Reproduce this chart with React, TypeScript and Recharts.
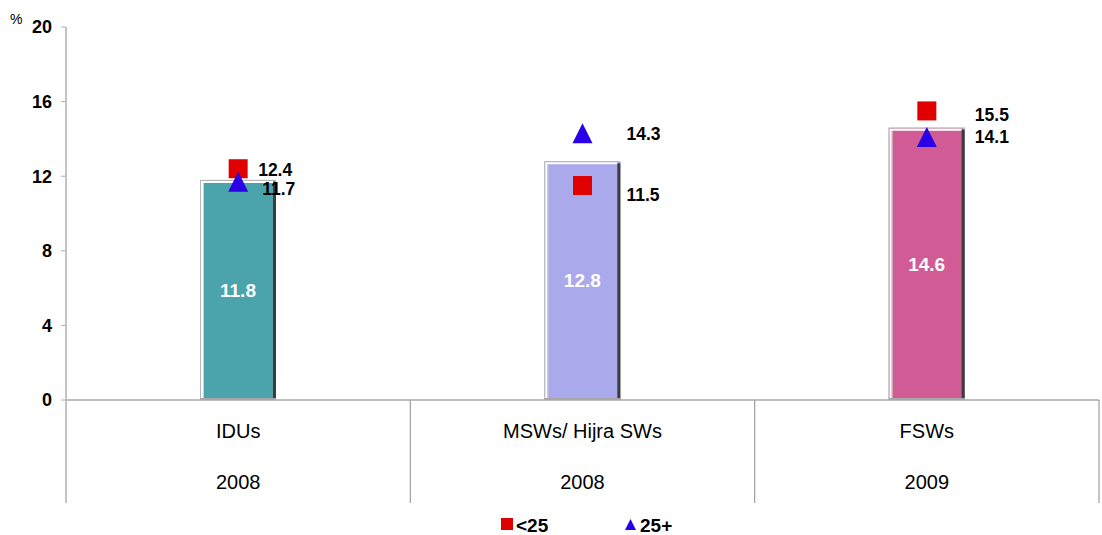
import {
  ComposedChart,
  Bar,
  Scatter,
  XAxis,
  YAxis,
  Legend,
  Cell,
  LabelList,
} from 'recharts';

// Source groups and survey years
const categories = ['IDUs', 'MSWs/ Hijra SWs', 'FSWs'];
const years = ['2008', '2008', '2009'];

// Overall prevalence (bars) and by age group (markers), in %
const overall = [11.8, 12.8, 14.6];
const under25 = [12.4, 11.5, 15.5];
const over25 = [11.7, 14.3, 14.1];

const yTicks = [0, 4, 8, 12, 16, 20];

const BAR_COLORS = ['#4BA3AC', '#A9A9EB', '#D15B94'];
const RED = '#E00000';
const BLUE = '#2A00E6';
const FONT = '"Liberation Sans", Arial, sans-serif';

const WIDTH = 1102;
const HEIGHT = 535;
const PLOT_LEFT = 66;
const PLOT_RIGHT = 1099;
const AXIS_Y = 400;
const TABLE_BOTTOM = 503;
const BAND = (PLOT_RIGHT - PLOT_LEFT) / categories.length;

// value labels next to markers: [dx, dy] per category
const UNDER25_LABEL_OFFSET = [[20, 7], [44, 15], [48, 10]];
const OVER25_LABEL_OFFSET = [[24, 13], [44, 7], [48, 6]];

const data = categories.map((c, i) => ({
  category: c,
  year: years[i],
  overall: overall[i],
  under25: under25[i],
  over25: over25[i],
}));

/** Bar with a bevelled frame: light top/left edge, dark right edge */
function BevelBar(props: any) {
  const { x, y, width, height, fill } = props;
  if (!height || height <= 0) return null;
  return (
    <g>
      <rect x={x} y={y} width={width} height={height} fill={fill} />
      {/* outer light frame */}
      <rect x={x + 0.5} y={y + 0.5} width={width - 1} height={height - 1} fill="none" stroke="#b8b8b8" strokeWidth={1} />
      {/* white highlight along top and left */}
      <line x1={x + 1} y1={y + 2} x2={x + width - 3} y2={y + 2} stroke="#ffffff" strokeWidth={2} />
      <line x1={x + 2} y1={y + 2} x2={x + 2} y2={y + height} stroke="#ffffff" strokeWidth={2} />
      <line x1={x + 3.5} y1={y + 3} x2={x + 3.5} y2={y + height} stroke="#d0d0d0" strokeWidth={1} />
      {/* dark right edge */}
      <line x1={x + width - 1.5} y1={y + 2} x2={x + width - 1.5} y2={y + height} stroke="#3c3c3c" strokeWidth={3} />
      {/* grey foot */}
      <line x1={x} y1={y + height - 1} x2={x + width} y2={y + height - 1} stroke="#a8a8a8" strokeWidth={2} />
    </g>
  );
}

function SquareMarker({ cx, cy }: any) {
  const s = 19;
  return <rect x={cx - s / 2} y={cy - s / 2} width={s} height={s} fill={RED} />;
}

function TriangleMarker({ cx, cy }: any) {
  return <polygon points={`${cx},${cy - 10} ${cx - 10},${cy + 10} ${cx + 10},${cy + 10}`} fill={BLUE} />;
}

function markerLabel(offsets: number[][]) {
  return (props: any) => {
    const { x, y, width, height, index, value } = props;
    const cx = x + (width || 0) / 2;
    const cy = y + (height || 0) / 2;
    const [dx, dy] = offsets[index] ?? [40, 7];
    return (
      <text x={cx + dx} y={cy + dy} fontSize={17.5} fontWeight={700} fill="#000" fontFamily={FONT} textAnchor="start">
        {value}
      </text>
    );
  };
}

/** Category cell of the table under the plot: name, year and cell borders */
function CategoryTick(props: any) {
  const { x, payload, index } = props;
  const i = index ?? categories.indexOf(payload.value);
  const right = PLOT_LEFT + BAND * (i + 1);
  return (
    <g>
      {i === 0 && (
        <line x1={PLOT_LEFT} y1={AXIS_Y} x2={PLOT_LEFT} y2={TABLE_BOTTOM} stroke="#b0b0b0" strokeWidth={1.5} />
      )}
      <line x1={right} y1={AXIS_Y} x2={right} y2={TABLE_BOTTOM} stroke="#a0a0a0" strokeWidth={1.2} />
      <text x={x} y={438} textAnchor="middle" fontSize={20} fill="#000" fontFamily={FONT}>
        {payload.value}
      </text>
      <text x={x} y={489} textAnchor="middle" fontSize={20} fill="#000" fontFamily={FONT}>
        {years[i]}
      </text>
    </g>
  );
}

function AgeLegend() {
  return (
    <svg width={WIDTH} height={32} style={{ display: 'block' }}>
      <rect x={501} y={15} width={12} height={12} fill={RED} />
      <text x={516} y={29} fontSize={19} fontWeight={700} fill="#000" fontFamily={FONT}>
        {'<25'}
      </text>
      <polygon points="630.5,16 625,27 636,27" fill={BLUE} />
      <text x={640} y={29} fontSize={19} fontWeight={700} fill="#000" fontFamily={FONT}>
        25+
      </text>
    </svg>
  );
}

export default function App() {
  return (
    <div style={{ position: 'absolute', left: 0, top: 0, width: WIDTH, height: HEIGHT, background: '#fff' }}>
      <ComposedChart
        width={WIDTH}
        height={HEIGHT}
        data={data}
        margin={{ top: 27, right: WIDTH - PLOT_RIGHT, bottom: 0, left: 0 }}
      >
        <XAxis
          dataKey="category"
          type="category"
          height={TABLE_BOTTOM - AXIS_Y}
          tickLine={false}
          tickSize={0}
          tickMargin={0}
          axisLine={{ stroke: '#a8a8a8', strokeWidth: 1.5 }}
          tick={<CategoryTick />}
          interval={0}
        />
        <YAxis
          type="number"
          domain={[0, 20]}
          ticks={yTicks}
          width={PLOT_LEFT}
          tickSize={5}
          tickMargin={9}
          axisLine={{ stroke: '#b0b0b0', strokeWidth: 1.5 }}
          tickLine={{ stroke: '#b0b0b0' }}
          tick={{ fontSize: 18, fontWeight: 700, fill: '#000', fontFamily: FONT }}
          label={{
            content: () => (
              <text x={10} y={24} fontSize={14} fill="#000" fontFamily={FONT}>
                %
              </text>
            ),
          }}
        />
        <Legend verticalAlign="bottom" height={32} wrapperStyle={{ left: 0, width: WIDTH }} content={() => <AgeLegend />} />
        <Bar dataKey="overall" barSize={76} shape={<BevelBar />} isAnimationActive={false} legendType="none">
          {data.map((d, i) => (
            <Cell key={d.category} fill={BAR_COLORS[i]} />
          ))}
          <LabelList
            dataKey="overall"
            position="center"
            style={{ fontSize: 19, fontWeight: 700, fill: '#ffffff', fontFamily: FONT }}
          />
        </Bar>
        <Scatter dataKey="under25" name="<25" shape={<SquareMarker />} isAnimationActive={false}>
          <LabelList dataKey="under25" content={markerLabel(UNDER25_LABEL_OFFSET)} />
        </Scatter>
        <Scatter dataKey="over25" name="25+" shape={<TriangleMarker />} isAnimationActive={false}>
          <LabelList dataKey="over25" content={markerLabel(OVER25_LABEL_OFFSET)} />
        </Scatter>
      </ComposedChart>
    </div>
  );
}
